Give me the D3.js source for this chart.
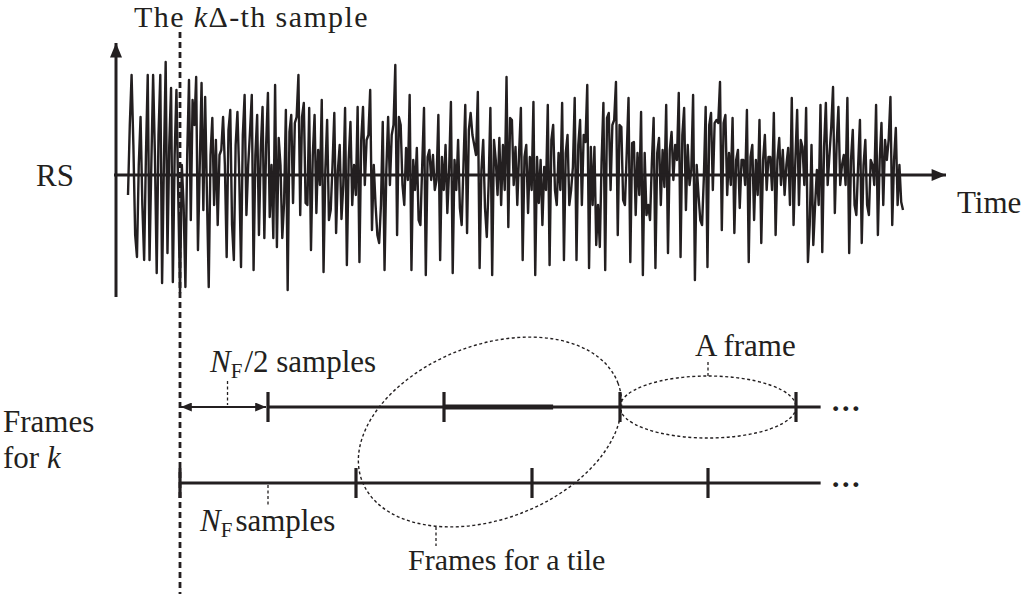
<!DOCTYPE html>
<html>
<head>
<meta charset="utf-8">
<script src="https://cdn.jsdelivr.net/npm/d3@7"></script>
<style>
  html, body { margin: 0; padding: 0; background: #fff; }
  svg { display: block; }
  text { font-family: "Liberation Serif", "Times New Roman", serif; fill: #231f20; }
</style>
</head>
<body>
<svg id="fig" width="1027" height="594"></svg>
<script>
// Received signal (RS) amplitude, one value per sample, normalised so that +-1 is the typical peak.
const rsAmplitude = [
  // onset: strong, nearly periodic oscillation
  -0.2, 0.5, 1.0, 0.3, -0.6, -0.82, 0.1, 0.58, -0.3, -0.85,
  0.2, 1.0, -0.85, 0.1, 1.0, 0.2, -0.98, 0.4, 1.0, -1.08,
  0.1, 1.13, -0.78, 0.3, 0.87, -1.07, 0.2, 0.85, -0.2, -1.18,
  0.1, -0.3, -1.12, 0.2, 0.95, -0.45, 0.75, 0.5, 0.98, -0.75,
  0.1, 0.92, -0.35, 0.78, -0.2, -1.12, 0.2, 0.57, -0.3, 0.35,
  -0.5, 0.2,
  // noisy part
  0.25, 0.58, 0.1, -0.82, 0.45, 0.65, -0.5, -0.85, 0.3, 0.63,
  0.0, -0.92, 0.4, 0.8, -0.4, 0.1, 0.43, 0.8, -0.95, 0.2,
  0.6, -0.6, 0.25, 0.68, -0.63, 0.3, 0.82, -0.42, 0.1, -0.63,
  0.9, -0.72, 0.37, 0.1, -0.63, -0.28, 0.65, -1.15, 0.43, 0.6,
  -0.28, 0.52, 0.58, 1.0, -0.4, 0.58, 0.72, -0.28, -0.3, 0.67,
  -0.75,
  0.2, 0.6, -0.38, 0.25, -0.1, 0.75, -0.97, 0.05, 0.55, -0.45,
  -0.35, 0.1, 0.62, -0.58, 0.05, 0.3, -0.44, -0.1, 0.67, -0.9,
  0.15, 0.53, -0.3, 0.1, -0.2, 0.68, -0.87, 0.35, 0.68, -0.1,
  0.35, 0.4, 0.85, -0.55, 0.1, -0.3, -0.6, -0.68, -0.3, 0.53,
  -0.95, 0.05, 0.58, -0.1, 0.4, 0.5, 1.1, -0.6, 0.58,
  0.5, -0.1, -0.3, 0.27, -0.05, 0.8, -0.95, 0.15, -0.15, 0.27,
  -0.45, -0.5, 0.1, 0.67, -1.0, 0.18, 0.25, -0.05, 0.2, -0.15,
  -0.05, 0.6, -0.85, 0.18, -0.15, 0.3, -0.38, 0.05, 0.73, -0.98,
  0.15, -0.15, 0.35, -0.33, -0.5, 0.1, 0.7, -0.58, 0.45, 0.62,
  0.4, 0.3, 0.2, 0.83, -0.93, 0.05, 0.35, -0.33, -0.62, -0.1,
  0.67, -1.0, 0.35,
  0.15, -0.2, 0.37, -0.3, 0.3, -0.15, 0.98, -0.52, 0.57, 0.55,
  -0.1, 0.28, -0.3, 0.22, 0.67, -0.85, 0.18, 0.3, -0.38, 0.18,
  -0.15, 0.73, -1.0, 0.18, -0.28, 0.15, -0.5, 0.08, -0.15, 0.7,
  -0.9, 0.35, 0.5, -0.15, -0.3, 0.22, -0.15, 0.72, -0.85, 0.22,
  0.4, -0.3, -0.15, 0.08, 0.77, -0.85, 0.3, 0.55, -0.3, 0.4,
  0.33, 0.9, -0.93, 0.28, -0.3,
  0.28, -0.7, -0.3, -0.72, 0.15, 0.72, -0.95, 0.57, 0.62, -0.15,
  0.5, 0.55, 0.93, -0.6, 0.5, 0.48, -0.25, -0.3, 0.22, 0.77,
  -0.87, 0.32, 0.33, -0.4, 0.22, -0.2, 0.63, -1.0, 0.22, -0.4,
  -0.3, -0.45, 0.12, 0.57, -0.93, 0.22, 0.37, -0.3, 0.25, -0.12,
  0.7, -0.78, 0.25, 0.43, -0.05, 0.3, 0.15, 0.82, -0.82, 0.4,
  0.67, -0.35,
  0.3, -0.1, 0.05, 0.8, -1.05, 0.1, -0.2, -0.45, -0.5, -0.02,
  0.68, -0.92, 0.5, 0.62, -0.15, 0.52, 0.55, 0.52, 0.93, -0.55,
  0.52, 0.6, -0.2, 0.22, -0.1, 0.57, -0.58, 0.15, 0.25, -0.33,
  0.15, 0.15, -0.1, 0.65, -0.87, 0.18, 0.3, -0.45, 0.15, -0.2,
  0.55, -0.68, 0.15, 0.4, -0.15, 0.18, 0.18, -0.15, 0.62, -0.6,
  0.15, 0.37, -0.1, 0.25,
  -0.2, 0.1, 0.27, -0.3, 0.77, -0.5, 0.15, 0.65, -0.3, 0.35,
  0.28, -0.1, 0.67, -0.87, -0.5, 0.3, -0.7, -0.3, 0.05, -0.3,
  0.7, -0.77, 0.28, 0.72, -0.1, 0.2, 0.48, 0.88, -0.38, 0.3,
  0.68, -0.1, 0.1, 0.2, -0.1, 0.77, -0.78, 0.15, 0.45, -0.3,
  -0.4, 0.1, 0.55, -0.68, 0.1, 0.35, -0.3, -0.4, 0.15, 0.1,
  -0.1, 0.7, -0.6, 0.15, 0.52, -0.3, 0.35, 0.15, 0.35, 0.78,
  -0.5, 0.15, 0.47, -0.3, 0.1, -0.27, -0.35
];

// Frame boundaries, in units of N_F samples counted from the kΔ-th sample.
const frameRows = ["shifted", "aligned"];
const frameStarts = {
  shifted: [0.5, 1.5, 2.5, 3.5],
  aligned: [0, 1, 2, 3]
};
const rowEnd = 3.64;            // where the drawn frame rows stop (before the ellipsis)
const halfFrameSpan = [0, 0.5]; // the N_F/2 offset of the shifted row
const tileHighlight = [1.5, 2.12];
const aFrame = [2.5, 3.5];

const ink = "#231f20";
const fs = 31;
const svg = d3.select("#fig");

// ---------- upper panel: RS waveform ----------
const xSample = d3.scaleLinear().domain([0, rsAmplitude.length - 1]).range([128, 903]);
const yAmp = d3.scaleLinear().domain([-1, 1]).range([275, 75]);

const defs = svg.append("defs");
defs.append("marker")
  .attr("id", "bigHead").attr("viewBox", "0 0 12 10")
  .attr("refX", 12).attr("refY", 5)
  .attr("markerUnits", "userSpaceOnUse")
  .attr("markerWidth", 24).attr("markerHeight", 12)
  .attr("orient", "auto")
  .append("path").attr("d", "M0,0 L12,5 L0,10 Z").attr("fill", ink);
defs.append("marker")
  .attr("id", "smallHead").attr("viewBox", "0 0 12 10")
  .attr("refX", 12).attr("refY", 5)
  .attr("markerUnits", "userSpaceOnUse")
  .attr("markerWidth", 14).attr("markerHeight", 9)
  .attr("orient", "auto-start-reverse")
  .append("path").attr("d", "M0,0 L12,5 L0,10 Z").attr("fill", ink);

// waveform
svg.append("path")
  .datum(rsAmplitude)
  .attr("d", d3.line().x((d, i) => xSample(i)).y(d => yAmp(d)))
  .attr("fill", "none")
  .attr("stroke", ink)
  .attr("stroke-width", 2.4)
  .attr("stroke-linejoin", "round");

// axes with arrow heads
svg.append("line")
  .attr("x1", 114).attr("y1", yAmp(0)).attr("x2", 946).attr("y2", yAmp(0))
  .attr("stroke", ink).attr("stroke-width", 3)
  .attr("marker-end", "url(#bigHead)");
svg.append("line")
  .attr("x1", 116).attr("y1", 297).attr("x2", 116).attr("y2", 43)
  .attr("stroke", ink).attr("stroke-width", 3)
  .attr("marker-end", "url(#bigHead)");

svg.append("text").attr("x", 36).attr("y", 186).attr("font-size", fs).text("RS");
svg.append("text").attr("x", 957).attr("y", 213).attr("font-size", fs).text("Time");

// ---------- the kΔ-th sample marker ----------
const tTitle = svg.append("text").attr("x", 134).attr("y", 27)
  .attr("font-size", 30).attr("letter-spacing", 1.4);
tTitle.append("tspan").text("The ");
tTitle.append("tspan").attr("font-style", "italic").text("k");
tTitle.append("tspan").text("Δ-th sample");

svg.append("line")
  .attr("x1", 180).attr("y1", 32).attr("x2", 180).attr("y2", 594)
  .attr("stroke", ink).attr("stroke-width", 2.8)
  .attr("stroke-dasharray", "6,4");

// ---------- lower panel: frames for k ----------
const xFrame = d3.scaleLinear().domain([0, 1]).range([180, 356]);
const yRow = d3.scalePoint().domain(frameRows).range([407, 483]);

svg.append("text").attr("x", 3).attr("y", 432).attr("font-size", fs).text("Frames");
const tFor = svg.append("text").attr("x", 3).attr("y", 468).attr("font-size", fs);
tFor.append("tspan").text("for ");
tFor.append("tspan").attr("font-style", "italic").text("k");

frameRows.forEach(row => {
  const starts = frameStarts[row];
  const y = yRow(row);
  svg.append("line")
    .attr("x1", xFrame(starts[0])).attr("x2", xFrame(rowEnd))
    .attr("y1", y).attr("y2", y)
    .attr("stroke", ink).attr("stroke-width", 3);
  svg.selectAll(null).data(starts).enter().append("line")
    .attr("x1", d => xFrame(d)).attr("x2", d => xFrame(d))
    .attr("y1", y - 15).attr("y2", y + 15)
    .attr("stroke", ink).attr("stroke-width", 3.2);
  svg.append("text")
    .attr("x", xFrame(rowEnd) + 10).attr("y", y + 4)
    .attr("font-size", 30).attr("font-weight", "bold").text("…");
});

// highlighted part of a frame in the tile
svg.append("line")
  .attr("x1", xFrame(tileHighlight[0])).attr("x2", xFrame(tileHighlight[1]))
  .attr("y1", yRow("shifted")).attr("y2", yRow("shifted"))
  .attr("stroke", ink).attr("stroke-width", 5);

// N_F/2 offset arrow
svg.append("line")
  .attr("x1", xFrame(halfFrameSpan[0]) + 1).attr("x2", xFrame(halfFrameSpan[1]) - 2)
  .attr("y1", yRow("shifted")).attr("y2", yRow("shifted"))
  .attr("stroke", ink).attr("stroke-width", 1.8)
  .attr("marker-start", "url(#smallHead)")
  .attr("marker-end", "url(#smallHead)");

const leader = (x, y1, y2) => svg.append("line")
  .attr("x1", x).attr("x2", x).attr("y1", y1).attr("y2", y2)
  .attr("stroke", ink).attr("stroke-width", 1.3)
  .attr("stroke-dasharray", "3,2.5");

// N_F/2 samples label
const tHalf = svg.append("text").attr("x", 210).attr("y", 372).attr("font-size", fs);
tHalf.append("tspan").attr("font-style", "italic").text("N");
tHalf.append("tspan").attr("font-size", 21).attr("dy", 6).text("F");
tHalf.append("tspan").attr("dy", -6).attr("dx", 2).text("/2 samples");
leader(xFrame(0.27), 381, yRow("shifted") - 2);

// N_F samples label
const tFull = svg.append("text").attr("x", 200).attr("y", 531).attr("font-size", fs);
tFull.append("tspan").attr("font-style", "italic").text("N");
tFull.append("tspan").attr("font-size", 21).attr("dy", 6).text("F");
tFull.append("tspan").attr("dy", -6).attr("dx", 3).text("samples");
leader(xFrame(0.5), yRow("aligned") + 2, 505);

// "A frame" ellipse
const fx0 = xFrame(aFrame[0]), fx1 = xFrame(aFrame[1]);
svg.append("ellipse")
  .attr("cx", (fx0 + fx1) / 2).attr("cy", yRow("shifted"))
  .attr("rx", (fx1 - fx0) / 2).attr("ry", 31)
  .attr("fill", "none").attr("stroke", ink)
  .attr("stroke-width", 1.4).attr("stroke-dasharray", "3,2.5");
leader((fx0 + fx1) / 2, 362, yRow("shifted") - 31);
svg.append("text").attr("x", 695).attr("y", 356).attr("font-size", fs).text("A frame");

// "Frames for a tile" ellipse (tilted)
svg.append("ellipse")
  .attr("cx", 0).attr("cy", 0).attr("rx", 137).attr("ry", 87)
  .attr("transform", "translate(490,432) rotate(-21)")
  .attr("fill", "none").attr("stroke", ink)
  .attr("stroke-width", 1.4).attr("stroke-dasharray", "3,2.5");
leader(436, 527, 546);
svg.append("text").attr("x", 408).attr("y", 570).attr("font-size", 30).text("Frames for a tile");
</script>
</body>
</html>
